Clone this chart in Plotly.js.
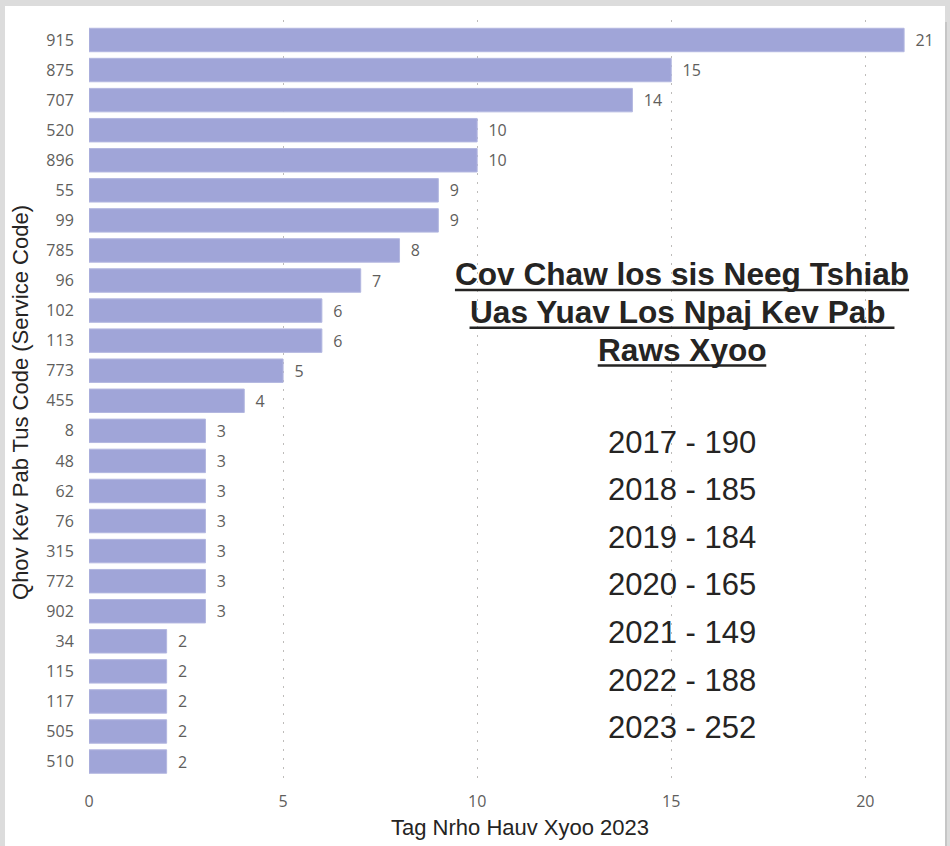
<!DOCTYPE html>
<html>
<head>
<meta charset="utf-8">
<script src="https://cdn.plot.ly/plotly-3.0.1.min.js"></script>
<style>
  html, body { margin: 0; padding: 0; width: 950px; height: 846px; background: #dcdcdc; overflow: hidden; }
  #chart { position: absolute; left: 5px; top: 6px; width: 940px; height: 840px; background: #ffffff; }
  #edge { position: absolute; left: 945px; top: 22px; width: 2px; height: 824px; background: #c6c6c6; }
</style>
</head>
<body>
<div id="chart"></div>
<div id="edge"></div>
<script>
// ---- data ----
const serviceCodes = ['915','875','707','520','896','55','99','785','96','102','113','773','455','8','48','62','76','315','772','902','34','115','117','505','510'];
const clientCounts = [21,15,14,10,10,9,9,8,7,6,6,5,4,3,3,3,3,3,3,3,2,2,2,2,2];
const xTickValues = [0,5,10,15,20];
const titleLines = ['Cov Chaw los sis Neeg Tshiab', 'Uas Yuav Los Npaj Kev Pab\u00a0', 'Raws Xyoo'];
const years = ['2017','2018','2019','2020','2021','2022','2023'];
const yearTotals = [190,185,184,165,149,188,252];
const xTitle = 'Tag Nrho Hauv Xyoo 2023';
const yTitle = 'Qhov Kev Pab Tus Code (Service Code)';

// ---- layout helpers ----
const W = 940, H = 840, OX = 5, OY = 6;
const M = {l: 84, r: 37, t: 14, b: 61};
const px = p => (p - OX - M.l) / (W - M.l - M.r);
const py = p => 1 - (p - OY - M.t) / (H - M.t - M.b);

const TITLE_FAMILY = 'Liberation Sans, Arial, sans-serif';
const TITLE_SIZE = 31.6;
const ctx = document.createElement('canvas').getContext('2d');
ctx.font = 'bold ' + TITLE_SIZE + 'px "Liberation Sans", Arial, sans-serif';

const annotations = [];
const shapes = [];
const CX = 682;
titleLines.forEach((t, i) => {
  annotations.push({
    xref: 'paper', yref: 'paper', x: px(CX), y: py(274 + i * 38),
    xanchor: 'center', yanchor: 'middle', showarrow: false,
    text: '<b>' + t + '</b>',
    font: {family: TITLE_FAMILY, size: TITLE_SIZE, color: '#252423'}
  });
  const w = ctx.measureText(t).width;
  const uy = 290 + i * 37.7;
  shapes.push({
    type: 'line', xref: 'paper', yref: 'paper',
    x0: px(CX - w / 2), x1: px(CX + w / 2), y0: py(uy), y1: py(uy),
    line: {color: '#252423', width: 2.5}
  });
});
years.forEach((yr, i) => {
  annotations.push({
    xref: 'paper', yref: 'paper', x: px(CX), y: py(442 + i * 47.6),
    xanchor: 'center', yanchor: 'middle', showarrow: false,
    text: yr + ' - ' + yearTotals[i],
    font: {family: TITLE_FAMILY, size: 31, color: '#252423'}
  });
});
annotations.push({
  xref: 'paper', yref: 'paper', x: px(520), y: py(827),
  xanchor: 'center', yanchor: 'middle', showarrow: false,
  text: xTitle,
  font: {family: TITLE_FAMILY, size: 22, color: '#252423'}
});

const trace = {
  type: 'bar',
  orientation: 'h',
  x: clientCounts,
  y: serviceCodes,
  marker: {color: '#a0a5d8', line: {color: '#b3b7e0', width: 1}},
  texttemplate: '\u00a0\u00a0%{x}',
  textposition: 'outside',
  cliponaxis: false,
  textfont: {family: 'Segoe UI, Open Sans, sans-serif', size: 16, color: '#605e5c'},
  hoverinfo: 'x+y'
};

const layout = {
  width: W, height: H,
  margin: M,
  paper_bgcolor: '#ffffff',
  plot_bgcolor: '#ffffff',
  showlegend: false,
  bargap: 0.22,
  font: {family: 'Segoe UI, Open Sans, sans-serif', color: '#605e5c'},
  xaxis: {
    range: [0, 21.1],
    tickvals: xTickValues,
    showgrid: true,
    gridcolor: '#bebcba',
    griddash: '2px,7px',
    gridwidth: 1,
    zeroline: false,
    showline: false,
    ticks: 'outside', ticklen: 2, tickcolor: 'rgba(0,0,0,0)',
    tickfont: {family: 'Segoe UI, Open Sans, sans-serif', size: 16, color: '#605e5c'}
  },
  yaxis: {
    type: 'category',
    categoryorder: 'array',
    categoryarray: serviceCodes,
    range: [24.78, -0.665],
    showgrid: false,
    zeroline: false,
    showline: false,
    ticks: 'outside', ticklen: 11, tickcolor: 'rgba(0,0,0,0)',
    tickfont: {family: 'Segoe UI, Open Sans, sans-serif', size: 16, color: '#605e5c'},
    title: {text: yTitle, standoff: 11, font: {family: TITLE_FAMILY, size: 22, color: '#252423'}}
  },
  annotations: annotations,
  shapes: shapes
};

Plotly.newPlot('chart', [trace], layout, {displayModeBar: false, staticPlot: true});
</script>
</body>
</html>
